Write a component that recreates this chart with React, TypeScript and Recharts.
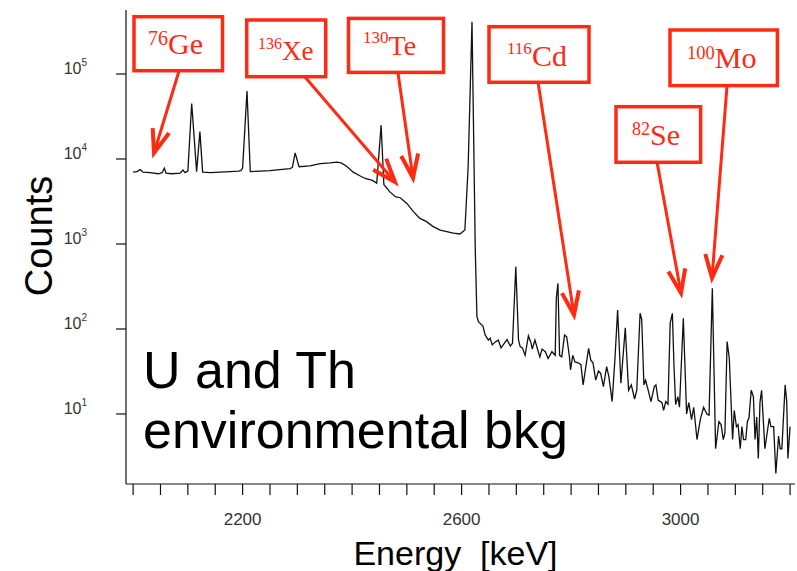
import React from "react";
import { Line, LineChart, XAxis, YAxis } from "recharts";

// Spectrum: energy (keV) and counts per bin
const energies = [
  2000, 2007, 2013, 2018, 2031, 2046, 2053, 2057, 2060, 2071, 2086, 2091, 2095,
  2100, 2107, 2116, 2122, 2127, 2141, 2159, 2177, 2192, 2197, 2200, 2208, 2214,
  2232, 2250, 2268, 2287, 2291, 2296, 2303, 2323, 2342, 2360, 2372, 2380, 2390,
  2402, 2415, 2424, 2437, 2445, 2453, 2458, 2464, 2469, 2479, 2488, 2500, 2512,
  2524, 2536, 2548, 2561, 2573, 2585, 2597, 2606, 2612, 2619, 2625, 2628, 2631,
  2639, 2643, 2649, 2652, 2656, 2661, 2667, 2672, 2676, 2683, 2689, 2693, 2699,
  2704, 2707, 2711, 2716, 2722, 2727, 2729, 2734, 2739, 2743, 2747, 2753, 2758,
  2765, 2771, 2773, 2776, 2779, 2783, 2788, 2792, 2797, 2799, 2803, 2807, 2813,
  2818, 2822, 2827, 2832, 2836, 2840, 2845, 2850, 2854, 2859, 2865, 2869, 2875,
  2880, 2885, 2891, 2899, 2905, 2910, 2916, 2920, 2926, 2929, 2933, 2936, 2940,
  2946, 2952, 2955, 2959, 2966, 2969, 2973, 2977, 2981, 2985, 2988, 2991, 2995,
  2998, 3005, 3011, 3015, 3020, 3024, 3030, 3036, 3042, 3048, 3052, 3058, 3064,
  3070, 3074, 3078, 3081, 3085, 3089, 3095, 3098, 3102, 3105, 3109, 3112, 3115,
  3119, 3122, 3125, 3129, 3133, 3136, 3139, 3142, 3145, 3148, 3154, 3162, 3165,
  3170, 3174, 3179, 3182, 3185, 3191, 3194, 3196, 3200,
];
const counts = [
  7000, 7100, 7500, 7000, 6900, 6700, 6900, 7800, 6800, 6700, 6800, 7400, 6900,
  7200, 45000, 7100, 21000, 7000, 6900, 7000, 7100, 7200, 7300, 7800, 63000, 7100,
  7200, 7300, 7500, 7700, 8000, 11800, 8100, 8300, 8800, 9000, 9200, 9000, 8200,
  7000, 6300, 5900, 5600, 5200, 25000, 5000, 4500, 4100, 3600, 3500, 3000, 2400,
  2000, 1830, 1600, 1460, 1400, 1340, 1310, 1460, 8100, 412000, 850, 140, 121,
  108, 85, 74, 78, 65, 70, 74, 60, 65, 75, 63, 68, 540,
  74, 62, 60, 49, 83, 68, 58, 74, 57, 47, 58, 54, 45,
  54, 49, 230, 345, 49, 47, 85, 81, 47, 33, 49, 41, 40,
  38, 22, 36, 59, 43, 40, 25, 32, 30, 21, 36, 27.5, 14,
  43, 167, 23, 103, 19, 22, 15, 19, 153, 130, 22, 25, 20,
  14, 21, 22, 14.6, 13.6, 11, 14, 13, 117, 153, 36, 12.9, 16,
  12, 134, 10, 13.6, 8.6, 12, 5.0, 8.6, 12, 10, 9.7, 301, 3.9,
  8.1, 7.5, 5.0, 6, 71, 45, 5.0, 11, 7.1, 7.5, 3.9, 7.1, 5.0,
  5.0, 8.1, 9, 19, 16, 5.0, 9.2, 3.0, 13.6, 19, 3.9, 8.9, 7.1,
  7.1, 2.0, 5.5, 3.9, 3.9, 22, 13.6, 3.0, 7.1,
];

const energyTicks = [
  2000, 2050, 2100, 2150, 2200, 2250, 2300, 2350, 2400, 2450, 2500, 2550, 2600,
  2650, 2700, 2750, 2800, 2850, 2900, 2950, 3000, 3050, 3100, 3150, 3200,
];
const labeledEnergies = [2200, 2600, 3000];
const countTicks = [10, 100, 1000, 10000, 100000];

const spectrum = energies.map((energy, i) => ({ energy, counts: counts[i] }));

const RED = "#ff2a12";
const SANS = '"Liberation Sans", Arial, Helvetica, sans-serif';
const SERIF = '"Liberation Serif", "Times New Roman", serif';

type Callout = {
  mass: string;
  element: string;
  box: [number, number, number, number];
  text: [number, number];
  size: number;
  supSize: number;
  rise: number;
  from: [number, number];
  tip: [number, number];
};

// isotope callouts: boxed label plus arrow
const callouts: Callout[] = [
  { mass: "76", element: "Ge", box: [134, 16.7, 88.5, 54], text: [148, 54], size: 30, supSize: 20, rise: 9, from: [179, 71], tip: [154, 153] },
  { mass: "136", element: "Xe", box: [246.7, 20, 79, 56.7], text: [258, 60], size: 27, supSize: 16, rise: 11, from: [305, 77], tip: [395, 182] },
  { mass: "130", element: "Te", box: [348.5, 18.4, 95, 54], text: [363, 55], size: 28, supSize: 17, rise: 12, from: [398, 73], tip: [413, 178] },
  { mass: "116", element: "Cd", box: [489, 26.7, 100, 55.6], text: [507, 66], size: 30, supSize: 17, rise: 12, from: [538, 82], tip: [574, 315] },
  { mass: "82", element: "Se", box: [616, 106.7, 84.6, 55.6], text: [632, 145], size: 30, supSize: 18, rise: 10, from: [657, 162], tip: [681, 293] },
  { mass: "100", element: "Mo", box: [670, 30, 107.4, 55.6], text: [687, 68], size: 30, supSize: 18.5, rise: 9, from: [727, 86], tip: [712, 278] },
];

function arrowHead(from: [number, number], tip: [number, number]) {
  const dx = from[0] - tip[0];
  const dy = from[1] - tip[1];
  const len = Math.hypot(dx, dy);
  const ux = dx / len;
  const uy = dy / len;
  const a = (20 * Math.PI) / 180;
  const l = 25;
  const w1 = [tip[0] + l * (ux * Math.cos(a) - uy * Math.sin(a)), tip[1] + l * (ux * Math.sin(a) + uy * Math.cos(a))];
  const w2 = [tip[0] + l * (ux * Math.cos(-a) - uy * Math.sin(-a)), tip[1] + l * (ux * Math.sin(-a) + uy * Math.cos(-a))];
  return `${w1[0]},${w1[1]} ${tip[0]},${tip[1]} ${w2[0]},${w2[1]}`;
}

const EnergyTick = (props: any) => {
  const { x, y, payload } = props;
  if (!labeledEnergies.includes(payload.value)) return <g />;
  return (
    <text x={x} y={y} dy="0.71em" textAnchor="middle" fontSize={17} fill="#333" fontFamily={SANS}>
      {payload.value}
    </text>
  );
};

const CountTick = (props: any) => {
  const { x, y, payload } = props;
  const exp = Math.round(Math.log10(payload.value));
  return (
    <text x={x} y={y} textAnchor="end" fontSize={16} fill="#333" fontFamily={SANS}>
      10
      <tspan dy={-8} fontSize={10}>
        {exp}
      </tspan>
    </text>
  );
};

const CountsTitle = (props: any) => {
  const vb = props.viewBox;
  const cx = vb.x + 39;
  const cy = vb.y + vb.height / 2 - 11;
  return (
    <text
      x={cx}
      y={cy}
      transform={`rotate(-90 ${cx} ${cy})`}
      textAnchor="middle"
      dominantBaseline="central"
      fontSize={38}
      fill="#000"
      fontFamily={SANS}
    >
      Counts
    </text>
  );
};

const EnergyTitle = (props: any) => {
  const vb = props.viewBox;
  return (
    <text
      x={vb.x + vb.width / 2 - 5}
      y={vb.y + 81}
      textAnchor="middle"
      fontSize={34}
      fill="#000"
      fontFamily={SANS}
      style={{ whiteSpace: "pre" }}
    >
      {"Energy  [keV]"}
    </text>
  );
};

export default function App() {
  return (
    <div style={{ position: "absolute", left: 0, top: 0, width: 797, height: 571, background: "#fff" }}>
      <LineChart width={797} height={571} data={spectrum} margin={{ top: 10, right: 2, bottom: 0, left: 0 }}>
        <XAxis
          dataKey="energy"
          type="number"
          domain={[1987, 3209]}
          allowDataOverflow
          ticks={energyTicks}
          interval={0}
          tick={<EnergyTick />}
          tickSize={11}
          tickMargin={18}
          height={87}
          axisLine={{ stroke: "#111", strokeWidth: 1.2 }}
          tickLine={{ stroke: "#111", strokeWidth: 1.2 }}
          label={{ content: EnergyTitle }}
        />
        <XAxis
          xAxisId="frame"
          orientation="top"
          type="number"
          domain={[1987, 3209]}
          height={0}
          tick={false}
          tickLine={false}
          axisLine={{ stroke: "#555", strokeWidth: 1 }}
        />
        <YAxis
          type="number"
          scale="log"
          domain={[1.5, 566000]}
          allowDataOverflow
          ticks={countTicks}
          interval={0}
          width={126}
          tickSize={10}
          tickMargin={29}
          tick={<CountTick />}
          axisLine={{ stroke: "#111", strokeWidth: 1.2 }}
          tickLine={{ stroke: "#111", strokeWidth: 1.2 }}
          label={{ content: CountsTitle }}
        />
        <YAxis
          yAxisId="frame"
          orientation="right"
          type="number"
          domain={[0, 1]}
          width={0}
          tick={false}
          tickLine={false}
          axisLine={{ stroke: "#666", strokeWidth: 1, strokeDasharray: "2 2" }}
        />
        <Line
          dataKey="counts"
          type="linear"
          stroke="#111"
          strokeWidth={1.3}
          dot={false}
          isAnimationActive={false}
        />
      </LineChart>
      <svg width={797} height={571} style={{ position: "absolute", left: 0, top: 0, pointerEvents: "none" }}>
        <text fontFamily={SANS} fontSize={52} fill="#000">
          <tspan x={143} y={388}>U and Th</tspan>
          <tspan x={143} y={448}>environmental bkg</tspan>
        </text>
        {callouts.map((c) => (
          <g key={c.mass + c.element}>
            <rect x={c.box[0]} y={c.box[1]} width={c.box[2]} height={c.box[3]} fill="#fff" stroke={RED} strokeWidth={3.5} />
            <text x={c.text[0]} y={c.text[1]} fontFamily={SERIF} fontSize={c.size} fill={RED}>
              <tspan fontSize={c.supSize} dy={-c.rise}>
                {c.mass}
              </tspan>
              <tspan dy={c.rise}>{c.element}</tspan>
            </text>
            <line x1={c.from[0]} y1={c.from[1]} x2={c.tip[0]} y2={c.tip[1]} stroke={RED} strokeWidth={3} />
            <polyline points={arrowHead(c.from, c.tip)} fill="none" stroke={RED} strokeWidth={4} strokeLinejoin="miter" />
          </g>
        ))}
      </svg>
    </div>
  );
}
